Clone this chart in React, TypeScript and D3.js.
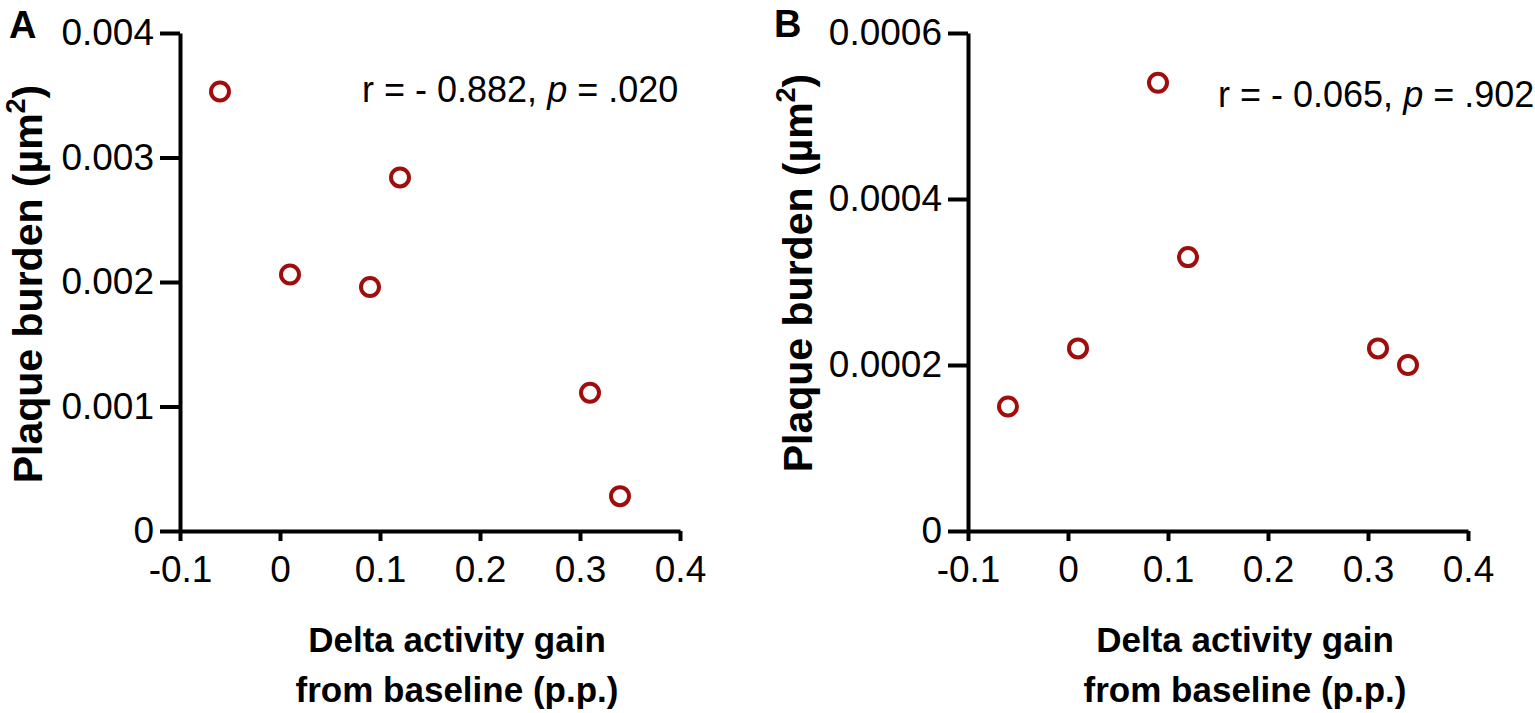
import * as d3 from 'd3';
import React, { useEffect, useRef } from 'react';

// delta activity gain from baseline (p.p.), same animals in both panels
const deltaGain = [-0.06, 0.01, 0.09, 0.12, 0.31, 0.34];
const plaqueA = [0.00353, 0.00206, 0.00196, 0.00284, 0.00111, 0.00028];
const plaqueB = [0.00015, 0.00022, 0.00054, 0.00033, 0.00022, 0.0002];

const xTicks = [-0.1, 0, 0.1, 0.2, 0.3, 0.4];
const xTickLabels = ['-0.1', '0', '0.1', '0.2', '0.3', '0.4'];
const yTicksA = [0, 0.001, 0.002, 0.003, 0.004];
const yTickLabelsA = ['0', '0.001', '0.002', '0.003', '0.004'];
const yTicksB = [0, 0.0002, 0.0004, 0.0006];
const yTickLabelsB = ['0', '0.0002', '0.0004', '0.0006'];

const FONT = "'Liberation Sans', Arial, Helvetica, sans-serif";
const RED = '#a00d0d';

interface PanelProps {
    letter: string;
    letterX: number;
    letterY: number;
    labelX: number;
    labelY: number;
    left: number;
    values: number[];
    yTicks: number[];
    yLabels: string[];
    r: string;
    p: string;
    statX: number;
    statY: number;
}

function Panel(props: PanelProps) {
    const { letter, letterX, letterY, labelX, labelY, left, values, yTicks, yLabels, r, p, statX, statY } = props;
    const xRef = useRef<SVGGElement>(null);
    const yRef = useRef<SVGGElement>(null);

    const top = 33;
    const bottom = 531;
    const width = 500;

    const x = d3.scaleLinear().domain([xTicks[0], xTicks[xTicks.length - 1]]).range([left, left + width]);
    const y = d3.scaleLinear().domain([0, yTicks[yTicks.length - 1]]).range([bottom, top]);

    useEffect(() => {
        const xAxis = d3.axisBottom(x)
            .tickValues(xTicks)
            .tickFormat((_d, i) => xTickLabels[i])
            .tickSizeInner(10)
            .tickSizeOuter(0)
            .tickPadding(13);
        const yAxis = d3.axisLeft(y)
            .tickValues(yTicks)
            .tickFormat((_d, i) => yLabels[i])
            .tickSizeInner(20)
            .tickSizeOuter(0)
            .tickPadding(6);

        const gx = d3.select(xRef.current!);
        gx.selectAll('*').remove();
        gx.attr('transform', `translate(0,${bottom})`).call(xAxis);
        const gy = d3.select(yRef.current!);
        gy.selectAll('*').remove();
        gy.attr('transform', `translate(${left},0)`).call(yAxis);

        [gx, gy].forEach(g => {
            g.selectAll('path, line').attr('stroke', '#000').attr('stroke-width', 4);
            g.selectAll('text')
                .attr('fill', '#000')
                .style('font-family', FONT)
                .style('font-size', '37px');
        });
        gx.selectAll('text').attr('dy', '0.75em');
    });

    const mid = left + width / 2 + 27;

    return (
        <g>
            <text x={letterX} y={letterY} fontFamily={FONT} fontWeight="bold" fontSize={38}>{letter}</text>
            <text
                transform={`translate(${labelX},${labelY}) rotate(-90)`}
                textAnchor="middle"
                fontFamily={FONT}
                fontWeight="bold"
                fontSize={41}
            >
                Plaque burden (µm<tspan fontSize={27} dy={-17}>2</tspan><tspan dy={17}>)</tspan>
            </text>
            <g ref={yRef} />
            <g ref={xRef} />
            {deltaGain.map((d, i) => (
                <circle key={i} cx={x(d)} cy={y(values[i])} r={9} fill="none" stroke={RED} strokeWidth={4} />
            ))}
            <text x={statX} y={statY} fontFamily={FONT} fontSize={36}>
                r = - {r}, <tspan fontStyle="italic">p</tspan> = {p}
            </text>
            <text x={mid} y={652} textAnchor="middle" fontFamily={FONT} fontWeight="bold" fontSize={35}>
                Delta activity gain
            </text>
            <text x={mid} y={702} textAnchor="middle" fontFamily={FONT} fontWeight="bold" fontSize={35}>
                from baseline (p.p.)
            </text>
        </g>
    );
}

export default function App() {
    return (
        <svg width={1535} height={713} style={{ position: 'absolute', left: 0, top: 0, background: '#fff' }}>
            <Panel letter="A" letterX={9} letterY={38} labelX={42} labelY={284}
                left={180} values={plaqueA} yTicks={yTicksA} yLabels={yTickLabelsA}
                r="0.882" p=".020" statX={362} statY={102} />
            <Panel letter="B" letterX={774} letterY={37} labelX={812} labelY={273}
                left={968} values={plaqueB} yTicks={yTicksB} yLabels={yTickLabelsB}
                r="0.065" p=".902" statX={1218} statY={107} />
        </svg>
    );
}
